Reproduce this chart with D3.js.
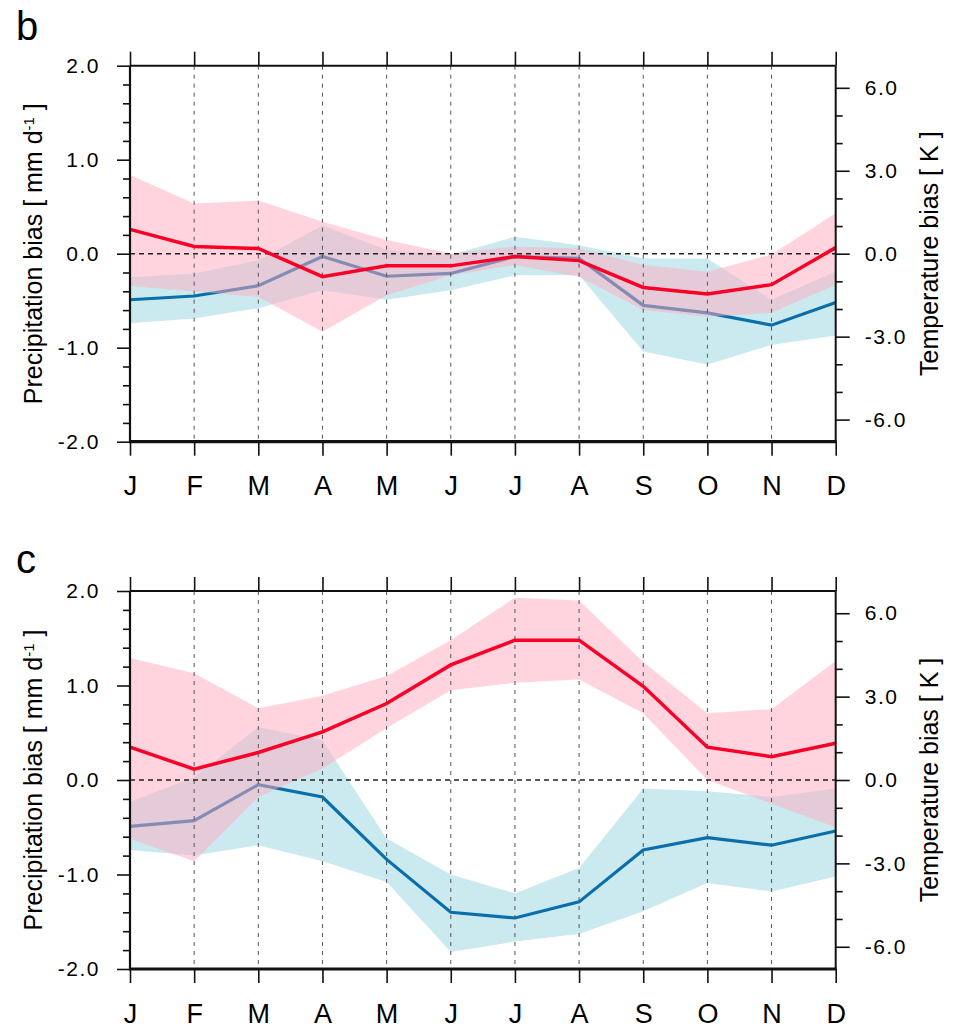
<!DOCTYPE html>
<html>
<head>
<meta charset="utf-8">
<script src="https://cdn.jsdelivr.net/npm/d3@7"></script>
<style>
  body { margin: 0; background: #fff; }
  svg { font-family: "Liberation Sans", Arial, Helvetica, sans-serif; }
</style>
</head>
<body>
<svg width="963" height="1029"></svg>
<script>
// month labels + axis ticks
var months = ["J", "F", "M", "A", "M", "J", "J", "A", "S", "O", "N", "D"];
var precipTicks = [-2, -1, 0, 1, 2];
var tempTicks = [-6, -3, 0, 3, 6];

// panel b : temperature bias (K) - red, precipitation bias (mm/d) - blue
var bTemp   = [0.88, 0.26, 0.19, -0.83, -0.44, -0.44, -0.10, -0.25, -1.22, -1.46, -1.12, 0.22];
var bTempHi = [2.85, 1.82, 1.92, 1.16, 0.50, 0.01, 0.26, 0.19, -0.41, -0.65, -0.03, 1.46];
var bTempLo = [-1.17, -1.36, -1.56, -2.82, -1.50, -0.78, -0.41, -0.83, -2.04, -2.28, -2.14, -1.12];
var bPr     = [-0.49, -0.45, -0.34, -0.03, -0.24, -0.21, -0.03, -0.05, -0.55, -0.63, -0.76, -0.52];
var bPrHi   = [-0.25, -0.21, -0.07, 0.30, 0.04, -0.01, 0.18, 0.09, -0.05, -0.05, -0.49, -0.19];
var bPrLo   = [-0.74, -0.69, -0.58, -0.39, -0.49, -0.39, -0.23, -0.23, -1.04, -1.18, -0.97, -0.87];

// panel c
var cTemp   = [1.18, 0.39, 0.99, 1.73, 2.75, 4.14, 5.03, 5.03, 3.37, 1.18, 0.84, 1.32];
var cTempHi = [4.39, 3.84, 2.58, 3.03, 3.74, 5.03, 6.56, 6.46, 4.25, 2.40, 2.55, 4.28];
var cTempLo = [-2.11, -2.92, -0.61, 0.41, 1.87, 3.23, 3.50, 3.62, 2.40, 0.00, -0.85, -1.70];
var cPr     = [-0.49, -0.43, -0.05, -0.18, -0.84, -1.40, -1.46, -1.29, -0.74, -0.61, -0.69, -0.54];
var cPrHi   = [-0.23, 0.03, 0.56, 0.42, -0.62, -1.00, -1.20, -0.93, -0.09, -0.12, -0.18, -0.09];
var cPrLo   = [-0.74, -0.80, -0.69, -0.86, -1.08, -1.82, -1.71, -1.63, -1.39, -1.09, -1.18, -1.02];

var svg = d3.select("svg");
var xLeft = 130, xRight = 835.7;
var x = d3.scaleLinear().domain([0, 11]).range([xLeft, xRight]);
var idx = d3.range(12);

function drawPanel(p) {
    var yP = d3.scaleLinear().domain([-2, 2]).range([p.bottom, p.top]);
    var yT = d3.scaleLinear().domain([-6.8, 6.8]).range([p.bottom, p.top]);
    var g = svg.append("g");

    // blue band + line
    g.append("path")
        .attr("d", d3.area().x(i => x(i)).y0(i => yP(p.prLo[i])).y1(i => yP(p.prHi[i]))(idx))
        .attr("fill", "rgb(203,234,240)");
    g.append("path")
        .attr("d", d3.line().x(i => x(i)).y(i => yP(p.pr[i]))(idx))
        .attr("fill", "none").attr("stroke", "#0a6eaa").attr("stroke-width", 3.2);

    // red band on top (semi transparent), so blue line shows greyish below it
    g.append("path")
        .attr("d", d3.area().x(i => x(i)).y0(i => yT(p.tLo[i])).y1(i => yT(p.tHi[i]))(idx))
        .attr("fill", "rgba(255,170,190,0.5)");

    // grid
    g.append("g").selectAll("line")
        .data(d3.range(1, 11))
        .enter().append("line")
        .attr("x1", d => x(d)).attr("x2", d => x(d))
        .attr("y1", p.top).attr("y2", p.bottom)
        .attr("stroke", "#555").attr("stroke-width", 1)
        .attr("stroke-dasharray", "4,5");
    g.append("line")
        .attr("x1", xLeft).attr("x2", xRight)
        .attr("y1", yP(0)).attr("y2", yP(0))
        .attr("stroke", "#222").attr("stroke-width", 1.5)
        .attr("stroke-dasharray", "5,4");

    g.append("path")
        .attr("d", d3.line().x(i => x(i)).y(i => yT(p.t[i]))(idx))
        .attr("fill", "none").attr("stroke", "#fa0028").attr("stroke-width", 3.5);

    // axes
    var fmt = d => d.toFixed(1);
    var styleAxis = function (sel, fs) {
        sel.select(".domain").remove();
        sel.selectAll("line").attr("stroke", "#111").attr("stroke-width", 1.6);
        sel.selectAll("text").attr("fill", "#000").style("font-size", fs + "px");
    };

    g.append("g").attr("transform", "translate(" + xLeft + ",0)")
        .call(d3.axisLeft(yP).tickValues(precipTicks).tickSize(13).tickPadding(17).tickFormat(fmt))
        .call(s => styleAxis(s, 21))
        .selectAll("text").style("letter-spacing", "1.5px");
    var minorP = d3.range(21).map(k => -2 + k * 0.2).filter((v, k) => k % 5 !== 0);
    g.append("g").attr("transform", "translate(" + xLeft + ",0)")
        .call(d3.axisLeft(yP).tickValues(minorP).tickSize(7).tickFormat(""))
        .call(s => styleAxis(s, 21));

    g.append("g").attr("transform", "translate(" + xRight + ",0)")
        .call(d3.axisRight(yT).tickValues(tempTicks).tickSize(14).tickPadding(15).tickFormat(fmt))
        .call(s => styleAxis(s, 21))
        .selectAll("text").style("letter-spacing", "1.5px");
    var minorT = d3.range(-6, 7).filter(v => v % 3 !== 0);
    g.append("g").attr("transform", "translate(" + xRight + ",0)")
        .call(d3.axisRight(yT).tickValues(minorT).tickSize(7).tickFormat(""))
        .call(s => styleAxis(s, 21));

    g.append("g").attr("transform", "translate(0," + p.top + ")")
        .call(d3.axisTop(x).tickValues(idx).tickSize(14).tickFormat(""))
        .call(s => styleAxis(s, 21));
    var bx = g.append("g").attr("transform", "translate(0," + p.bottom + ")")
        .call(d3.axisBottom(x).tickValues(idx).tickSize(14).tickFormat(i => months[i]))
        .call(s => styleAxis(s, 27));
    bx.selectAll("text").attr("y", 53.5).attr("dy", null);

    // frame
    var frame = [
        [xLeft, p.top, xRight, p.top, 2],
        [xRight, p.top, xRight, p.bottom, 2],
        [xLeft, p.top, xLeft, p.bottom, 2.2],
        [xLeft - 1, p.bottom, xRight + 1, p.bottom, 3.2]
    ];
    g.append("g").selectAll("line").data(frame).enter().append("line")
        .attr("x1", d => d[0]).attr("y1", d => d[1])
        .attr("x2", d => d[2]).attr("y2", d => d[3])
        .attr("stroke", "#111").attr("stroke-width", d => d[4]);

    // axis titles
    var cy = (p.top + p.bottom) / 2;
    var lt = g.append("text")
        .attr("transform", "translate(42," + cy + ") rotate(-90)")
        .attr("text-anchor", "middle")
        .style("font-size", "25px");
    lt.append("tspan").text("Precipitation bias [ mm d");
    lt.append("tspan").attr("baseline-shift", "super").style("font-size", "15px").text("-1");
    lt.append("tspan").text(" ]");

    g.append("text")
        .attr("transform", "translate(938," + cy + ") rotate(-90)")
        .attr("text-anchor", "middle")
        .style("font-size", "25px")
        .text("Temperature bias [ K ]");

    // panel letter
    g.append("text")
        .attr("x", 16).attr("y", p.letterY)
        .style("font-size", "40px")
        .text(p.letter);
}

drawPanel({
    top: 65.7, bottom: 441.7, letter: "b", letterY: 40,
    t: bTemp, tHi: bTempHi, tLo: bTempLo, pr: bPr, prHi: bPrHi, prLo: bPrLo
});
drawPanel({
    top: 591, bottom: 969, letter: "c", letterY: 573,
    t: cTemp, tHi: cTempHi, tLo: cTempLo, pr: cPr, prHi: cPrHi, prLo: cPrLo
});
</script>
</body>
</html>
